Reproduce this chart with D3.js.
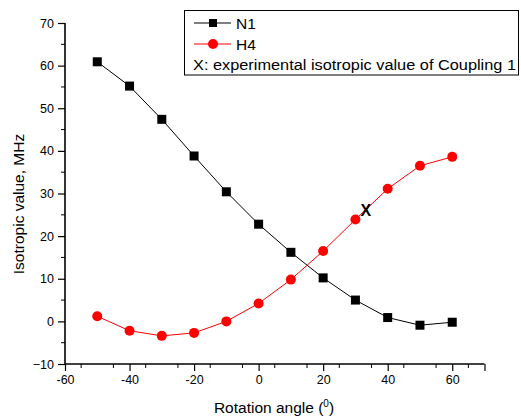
<!DOCTYPE html>
<html>
<head>
<meta charset="utf-8">
<script src="https://cdn.jsdelivr.net/npm/d3@7"></script>
<style>
  body { margin: 0; background: #fff; }
  text { font-family: Arial, "Liberation Sans", sans-serif; }
</style>
</head>
<body>
<svg id="viz" width="521" height="418"></svg>
<script>
// data
var angles = [-50, -40, -30, -20, -10, 0, 10, 20, 30, 40, 50, 60];
var n1Values = [60.9, 55.2, 47.4, 38.8, 30.4, 22.8, 16.2, 10.2, 5.0, 0.9, -0.9, -0.2];
var h4Values = [1.2, -2.2, -3.4, -2.7, 0.0, 4.2, 9.8, 16.5, 23.9, 31.1, 36.5, 38.6];
var expPoint = [33.2, 26.1];
var xTicks = [-60, -40, -20, 0, 20, 40, 60];
var yTicks = [-10, 0, 10, 20, 30, 40, 50, 60, 70];

var svg = d3.select('#viz');
var x = d3.scaleLinear().domain([-60, 70]).range([65, 484.5]);
var y = d3.scaleLinear().domain([-10, 70]).range([364, 23]);

// minor ticks
svg.append('g').selectAll('line')
  .data(d3.range(-55, 70, 10))
  .join('line')
  .attr('x1', d => x(d)).attr('x2', d => x(d))
  .attr('y1', y(-10)).attr('y2', y(-10) + 4)
  .attr('stroke', 'black');
svg.append('g').selectAll('line')
  .data(d3.range(-5, 70, 10))
  .join('line')
  .attr('y1', d => y(d)).attr('y2', d => y(d))
  .attr('x1', x(-60)).attr('x2', x(-60) - 4)
  .attr('stroke', 'black');

// axes
var xAxis = svg.append('g')
  .attr('transform', 'translate(0,' + y(-10) + ')')
  .call(d3.axisBottom(x).tickValues(xTicks.concat([70])).tickSize(7).tickPadding(4)
    .tickFormat(d => d == 70 ? '' : d));
var yAxis = svg.append('g')
  .attr('transform', 'translate(' + x(-60) + ',0)')
  .call(d3.axisLeft(y).tickValues(yTicks).tickSize(7).tickPadding(4));
[xAxis, yAxis].forEach(function (a) {
  a.select('.domain').attr('stroke-width', 1.6);
  a.selectAll('.tick line').attr('stroke-width', 1.2);
  a.selectAll('text').style('font-size', '12.5px').attr('fill', '#000')
    .style('font-family', 'Arial, "Liberation Sans", sans-serif');
});
yAxis.select('.domain').attr('d', 'M0,' + y(70) + 'V' + y(-10));
xAxis.select('.domain').attr('d', 'M' + x(-60) + ',0H' + x(70));

// lines
var line = d3.line().x(d => x(d[0])).y(d => y(d[1]));
var n1 = angles.map((a, i) => [a, n1Values[i]]);
var h4 = angles.map((a, i) => [a, h4Values[i]]);

svg.append('path').datum(n1).attr('d', line)
  .attr('fill', 'none').attr('stroke', 'black').attr('stroke-width', 1);
svg.append('path').datum(h4).attr('d', line)
  .attr('fill', 'none').attr('stroke', 'red').attr('stroke-width', 1);

svg.append('g').selectAll('rect')
  .data(n1)
  .join('rect')
  .attr('x', d => x(d[0]) - 4.5).attr('y', d => y(d[1]) - 4.5)
  .attr('width', 9).attr('height', 9)
  .attr('fill', 'black');
svg.append('g').selectAll('circle')
  .data(h4)
  .join('circle')
  .attr('cx', d => x(d[0])).attr('cy', d => y(d[1]))
  .attr('r', 5)
  .attr('fill', 'red');

// experimental point
svg.append('text')
  .attr('x', x(expPoint[0])).attr('y', y(expPoint[1]))
  .attr('text-anchor', 'middle').attr('dominant-baseline', 'central')
  .style('font-size', '16px').style('font-weight', 'bold')
  .text('X');

// axis titles
svg.append('text')
  .attr('transform', 'translate(18,204) rotate(-90)')
  .attr('text-anchor', 'middle').attr('dominant-baseline', 'central')
  .style('font-size', '15.5px')
  .text('Isotropic value, MHz');
var xt = svg.append('text')
  .attr('x', 274).attr('y', 413)
  .attr('text-anchor', 'middle')
  .style('font-size', '15.5px');
xt.append('tspan').text('Rotation angle (');
xt.append('tspan').attr('dy', -6).style('font-size', '10px').text('0');
xt.append('tspan').attr('dy', 6).text(')');

// legend
var lg = svg.append('g');
lg.append('rect')
  .attr('x', 184.5).attr('y', 10.5).attr('width', 334).attr('height', 64.5)
  .attr('fill', 'white').attr('stroke', 'black').attr('stroke-width', 1);
lg.append('line').attr('x1', 194).attr('x2', 231).attr('y1', 23).attr('y2', 23)
  .attr('stroke', 'black');
lg.append('rect').attr('x', 209).attr('y', 19).attr('width', 8).attr('height', 8)
  .attr('fill', 'black');
lg.append('text').attr('x', 236).attr('y', 23).attr('dominant-baseline', 'central')
  .style('font-size', '15.5px').text('N1');
lg.append('line').attr('x1', 194).attr('x2', 231).attr('y1', 44).attr('y2', 44)
  .attr('stroke', 'red');
lg.append('circle').attr('cx', 213).attr('cy', 44).attr('r', 5)
  .attr('fill', 'red');
lg.append('text').attr('x', 236).attr('y', 44).attr('dominant-baseline', 'central')
  .style('font-size', '15.5px').text('H4');
lg.append('text').attr('x', 193).attr('y', 64).attr('dominant-baseline', 'central')
  .style('font-size', '15.5px')
  .attr('textLength', 323).attr('lengthAdjust', 'spacingAndGlyphs')
  .text('X: experimental isotropic value of Coupling 1');
</script>
</body>
</html>
